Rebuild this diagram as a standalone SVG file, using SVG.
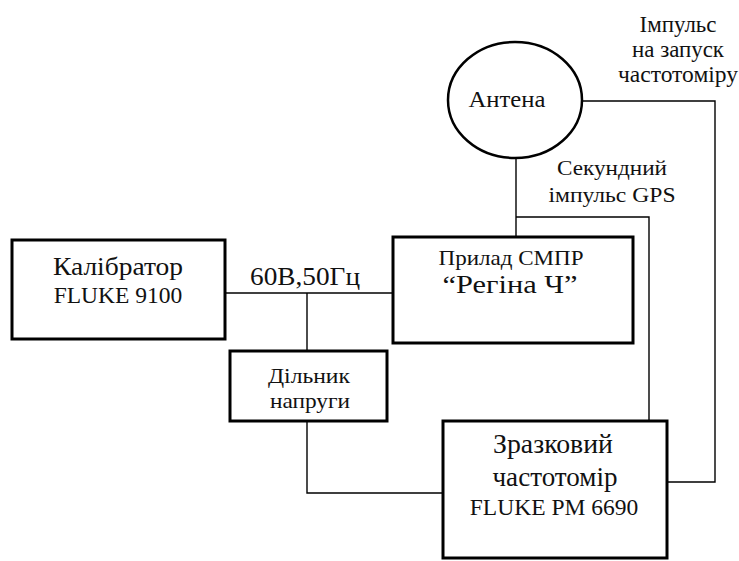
<svg xmlns="http://www.w3.org/2000/svg" width="739" height="561" viewBox="0 0 739 561">
<style>
.box{fill:#fff;stroke:#000;stroke-width:3}
.ln{fill:none;stroke:#000;stroke-width:1.4}
text{font-family:'Liberation Serif','Times New Roman',serif;fill:#111;text-anchor:middle}
</style>
<rect width="739" height="561" fill="#fff"/>
<g id="connectors">
<polyline class="ln" points="226,293 393,293"/>
<polyline class="ln" points="307,293 307,351"/>
<polyline class="ln" points="307,421 307,493 443,493"/>
<polyline class="ln" points="516,158 516,237"/>
<polyline class="ln" points="516,217 649,217 649,421"/>
<polyline class="ln" points="582,101 715,101 715,482 667,482"/>
</g>
<g id="calibrator">
<rect class="box" x="12" y="240" width="213" height="99"/>
<text x="118" y="275" font-size="25" textLength="130" lengthAdjust="spacingAndGlyphs">Калібратор</text>
<text x="118" y="303" font-size="23.5">FLUKE 9100</text>
</g>
<g id="label-60v">
<text x="305" y="285" font-size="25" textLength="110" lengthAdjust="spacingAndGlyphs">60В,50Гц</text>
</g>
<g id="antenna">
<ellipse cx="515" cy="100" rx="67" ry="58" fill="#fff" stroke="#000" stroke-width="2.5"/>
<text x="507" y="107" font-size="23" textLength="77" lengthAdjust="spacingAndGlyphs">Антена</text>
</g>
<g id="label-pulse">
<text x="678" y="32" font-size="22.5" textLength="77" lengthAdjust="spacingAndGlyphs">Імпульс</text>
<text x="678" y="57" font-size="22.5" textLength="92" lengthAdjust="spacingAndGlyphs">на запуск</text>
<text x="678" y="82" font-size="22.5" textLength="120" lengthAdjust="spacingAndGlyphs">частотоміру</text>
</g>
<g id="label-gps">
<text x="612" y="175" font-size="22" textLength="110" lengthAdjust="spacingAndGlyphs">Секундний</text>
<text x="612" y="202" font-size="22" textLength="127" lengthAdjust="spacingAndGlyphs">імпульс GPS</text>
</g>
<g id="smpr">
<rect class="box" x="393" y="237" width="240" height="106"/>
<text x="511" y="265" font-size="22" textLength="145" lengthAdjust="spacingAndGlyphs">Прилад СМПР</text>
<text x="510" y="293" font-size="26" textLength="135" lengthAdjust="spacingAndGlyphs">“Регіна Ч”</text>
</g>
<g id="divider">
<rect class="box" x="230" y="351" width="157" height="70"/>
<text x="309" y="383" font-size="22" textLength="82" lengthAdjust="spacingAndGlyphs">Дільник</text>
<text x="310" y="408" font-size="22" textLength="80" lengthAdjust="spacingAndGlyphs">напруги</text>
</g>
<g id="freqmeter">
<rect class="box" x="443" y="421" width="224" height="137"/>
<text x="553" y="453" font-size="26.5" textLength="120" lengthAdjust="spacingAndGlyphs">Зразковий</text>
<text x="555" y="486" font-size="26.5" textLength="125" lengthAdjust="spacingAndGlyphs">частотомір</text>
<text x="554" y="515" font-size="23.5">FLUKE PM 6690</text>
</g>
</svg>
